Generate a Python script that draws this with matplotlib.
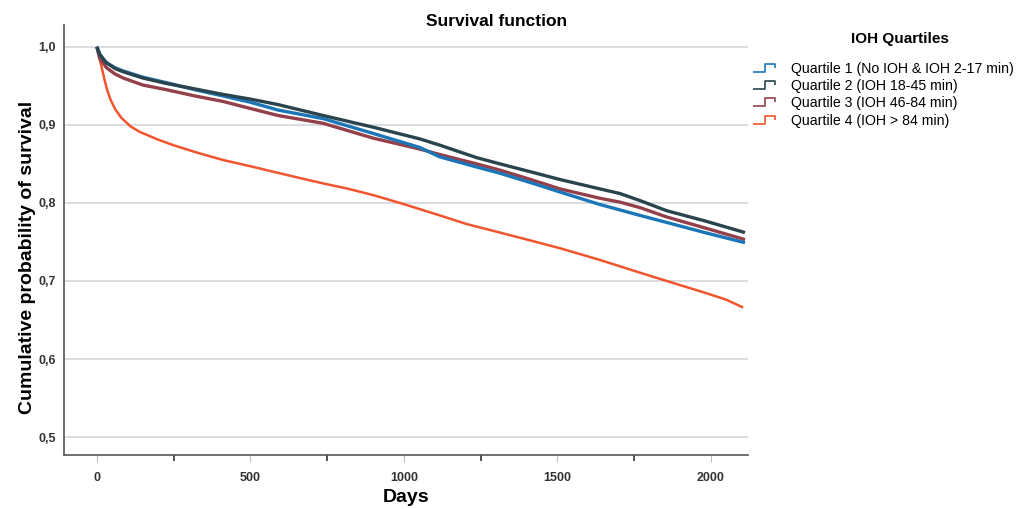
import matplotlib
matplotlib.use("Agg")
import matplotlib.pyplot as plt
from matplotlib.lines import Line2D
from matplotlib.path import Path
from matplotlib.ticker import FuncFormatter, MultipleLocator

plt.rcParams['font.family'] = ['Liberation Sans', 'DejaVu Sans']

# values (days, cumulative survival)
q1_days = [0, 10, 30, 60, 86, 150, 227, 320, 411, 500, 590, 737, 900, 1052,
           1117, 1237, 1313, 1421, 1508, 1638, 1704, 1769, 1856, 1980, 2111]
q1_surv = [1.0, 0.99, 0.98, 0.973, 0.969, 0.961, 0.954, 0.945, 0.937, 0.929,
           0.919, 0.908, 0.889, 0.871, 0.859, 0.846, 0.838, 0.825, 0.814,
           0.798, 0.791, 0.784, 0.775, 0.762, 0.749]

q2_days = [0, 10, 30, 60, 86, 150, 227, 320, 411, 500, 590, 737, 900, 1052,
           1117, 1237, 1313, 1421, 1508, 1638, 1704, 1769, 1856, 1980, 2111]
q2_surv = [1.0, 0.99, 0.98, 0.972, 0.968, 0.960, 0.953, 0.946, 0.939, 0.933,
           0.926, 0.912, 0.897, 0.882, 0.874, 0.858, 0.850, 0.839, 0.830,
           0.818, 0.812, 0.803, 0.790, 0.777, 0.762]

q3_days = [0, 10, 32, 60, 86, 150, 227, 320, 411, 500, 590, 737, 900, 1052,
           1117, 1237, 1313, 1421, 1508, 1638, 1704, 1769, 1856, 1980, 2111]
q3_surv = [1.0, 0.985, 0.973, 0.965, 0.960, 0.951, 0.945, 0.937, 0.930, 0.921,
           0.912, 0.902, 0.883, 0.869, 0.862, 0.850, 0.842, 0.829, 0.818,
           0.806, 0.801, 0.794, 0.782, 0.768, 0.753]

q4_days = [0, 5, 15, 25, 35, 45, 60, 80, 110, 140, 200, 249, 330, 411, 500,
           574, 660, 737, 820, 900, 987, 1052, 1117, 1204, 1313, 1421, 1508,
           1638, 1750, 1856, 1980, 2050, 2105]
q4_surv = [1.0, 0.99, 0.975, 0.958, 0.943, 0.932, 0.920, 0.909, 0.898, 0.891,
           0.881, 0.874, 0.864, 0.855, 0.847, 0.840, 0.832, 0.825, 0.818,
           0.810, 0.800, 0.792, 0.784, 0.773, 0.762, 0.751, 0.742, 0.727,
           0.713, 0.700, 0.685, 0.676, 0.666]

labels = ["Quartile 1 (No IOH & IOH 2-17 min)", "Quartile 2 (IOH 18-45 min)",
          "Quartile 3 (IOH 46-84 min)", "Quartile 4 (IOH > 84 min)"]
colors = ["#1b76b8", "#2a444e", "#94404b", "#f2552e"]

fig = plt.figure(figsize=(10.2, 5.09), dpi=100)
ax = fig.add_axes([0.0627, 0.106, 0.671, 0.845])

series = [(q1_days, q1_surv), (q2_days, q2_surv), (q3_days, q3_surv), (q4_days, q4_surv)]
widths = [2.4, 2.4, 2.4, 1.8]
# draw order: Q4 below, then Q3, Q1, Q2 on top
for i in [3, 2, 0, 1]:
    d, s = series[i]
    ax.plot(d, s, color=colors[i], lw=widths[i], solid_capstyle='butt')

ax.set_xlim(-107, 2122)
ax.set_ylim(0.477, 1.028)
ax.yaxis.set_major_locator(MultipleLocator(0.1))
ax.yaxis.set_major_formatter(FuncFormatter(lambda v, p: f"{v:.1f}".replace('.', ',')))
ax.xaxis.set_major_locator(MultipleLocator(500))
ax.xaxis.set_minor_locator(MultipleLocator(250))
ax.grid(axis='y', color='#d3d6dc', lw=1.2)
ax.set_axisbelow(True)

for sp in ['top', 'right']:
    ax.spines[sp].set_visible(False)
for sp in ['left', 'bottom']:
    ax.spines[sp].set_color('#555555')
    ax.spines[sp].set_linewidth(1.2)

ax.tick_params(axis='y', length=0, labelsize=9, labelcolor='#333333', pad=6)
ax.tick_params(axis='x', which='major', length=5, color='#bbbbbb', labelsize=9,
               labelcolor='#333333', pad=7)
ax.tick_params(axis='x', which='minor', length=4, color='#333333', width=1.2)
for t in ax.get_xticklabels() + ax.get_yticklabels():
    t.set_fontweight('bold')

fig.text(0.487, 1 - 22 / 509, "Survival function", fontsize=12.5, fontweight='bold',
         ha='center', va='center')
ax.set_xlabel("Days", fontsize=14, fontweight='bold', labelpad=4)
ax.set_ylabel("Cumulative probability of survival", fontsize=14, fontweight='bold')
ax.yaxis.set_label_coords(-0.041, 0.46)

step = Path([(-1, -0.35), (0.1, -0.35), (0.1, 0.35), (1, 0.35), (1, 0.0)])
handles = [Line2D([], [], color=c, marker=step, markersize=16, markerfacecolor='none',
                  markeredgewidth=1.2, linestyle='none') for c in colors]
fig.text(900 / 1020, 1 - 39 / 509, "IOH Quartiles", fontsize=11, fontweight='bold',
         ha='center', va='center')
fig.legend(handles, labels, loc='upper left', bbox_to_anchor=(0.732, 0.889),
           frameon=False, fontsize=10.2, handlelength=1.6, handletextpad=1.1,
           labelspacing=0.22, borderaxespad=0)

fig.savefig("out.png", dpi=100)
